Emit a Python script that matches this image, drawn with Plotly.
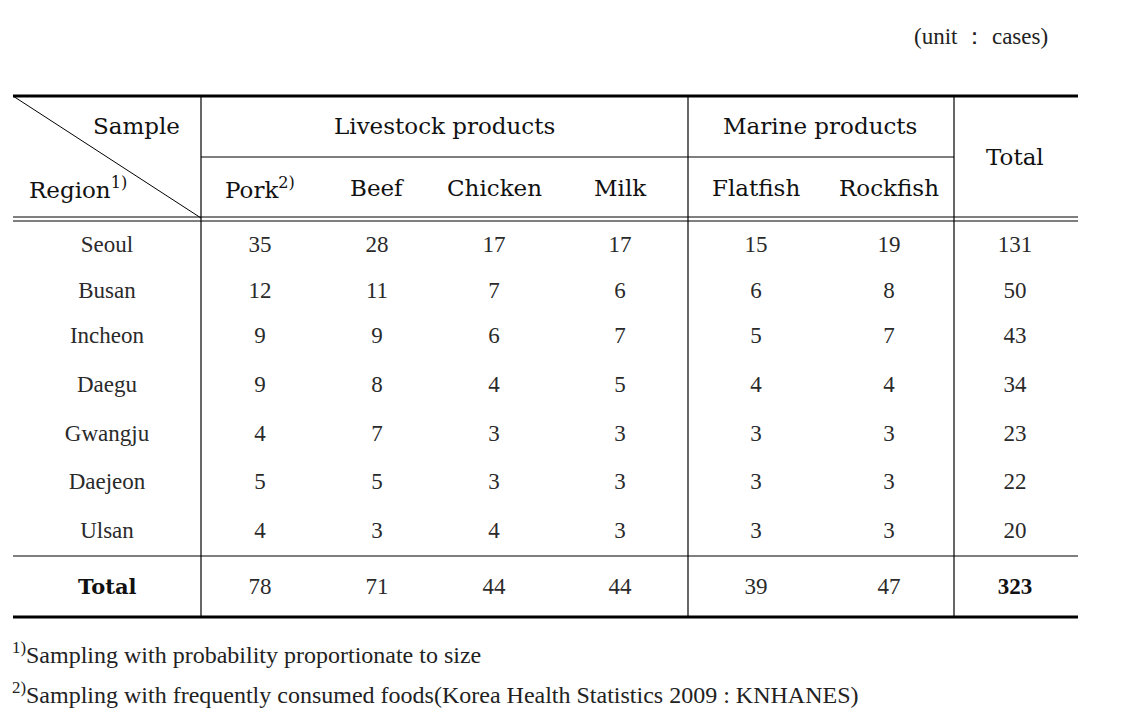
import plotly.graph_objects as go

# ---- data ----
regions = ["Seoul", "Busan", "Incheon", "Daegu", "Gwangju", "Daejeon", "Ulsan"]
pork = [35, 12, 9, 9, 4, 5, 4]
beef = [28, 11, 9, 8, 7, 5, 3]
chicken = [17, 7, 6, 4, 3, 3, 4]
milk = [17, 6, 7, 5, 3, 3, 3]
flatfish = [15, 6, 5, 4, 3, 3, 3]
rockfish = [19, 8, 7, 4, 3, 3, 3]
row_total = [131, 50, 43, 34, 23, 22, 20]
col_total = [78, 71, 44, 44, 39, 47]
grand_total = 323
sample_labels = ["Pork<sup>2)</sup>", "Beef", "Chicken", "Milk", "Flatfish", "Rockfish"]
group_labels = ["Livestock products", "Marine products"]
unit_text = "(unit \uff1a cases)"
footnotes = ["<sup>1)</sup>Sampling with probability proportionate to size",
             "<sup>2)</sup>Sampling with frequently consumed foods(Korea Health Statistics 2009 : KNHANES)"]

# ---- layout geometry (page pixels) ----
W, H = 1145, 722
OFF = 8  # page body margin
x_left, x_right = 13, 1078
v1, v2, v3 = 201, 688, 954
y_top, y_mid, y_dbl1, y_dbl2, y_tot, y_bot = 96, 157, 217, 221, 556, 617
col_x = [260, 377, 494, 620, 756, 889]
total_x = 1015
region_x = 107
row_y = [246, 292, 337, 386, 435, 483, 532]
total_row_y = 588

num_font = dict(family="Liberation Serif", size=23, color="#2a2a2a")
hdr_font = dict(family="DejaVu Serif", size=23, color="#111111")
note_font = dict(family="Liberation Serif", size=24, color="#222222")

fig = go.Figure()

series = [pork, beef, chicken, milk, flatfish, rockfish]
for cx, vals in zip(col_x, series):
    fig.add_trace(go.Scatter(x=[cx] * len(vals), y=row_y, mode="text",
                             text=[str(v) for v in vals], textfont=num_font,
                             hoverinfo="skip", showlegend=False))
fig.add_trace(go.Scatter(x=[total_x] * len(row_total), y=row_y, mode="text",
                         text=[str(v) for v in row_total], textfont=num_font,
                         hoverinfo="skip", showlegend=False))
fig.add_trace(go.Scatter(x=[region_x] * len(regions), y=row_y, mode="text",
                         text=regions, textfont=num_font,
                         hoverinfo="skip", showlegend=False))
fig.add_trace(go.Scatter(x=col_x, y=[total_row_y] * len(col_total), mode="text",
                         text=[str(v) for v in col_total], textfont=num_font,
                         hoverinfo="skip", showlegend=False))
fig.add_trace(go.Scatter(x=[total_x], y=[total_row_y], mode="text",
                         text=["<b>%d</b>" % grand_total],
                         textfont=dict(family="Liberation Serif", size=23, color="#111"),
                         hoverinfo="skip", showlegend=False))

anns = []
def ann(x, y, text, font, xanchor="center"):
    anns.append(dict(x=x, y=y, xref="x", yref="y", text=text, showarrow=False,
                     font=font, xanchor=xanchor, yanchor="middle"))

ann(182, 126, "Sample", hdr_font, "right")
ann(27, 188, "Region<sup>1)</sup>", hdr_font, "left")
ann(444, 126, group_labels[0], hdr_font)
ann(820, 126, group_labels[1], hdr_font)
ann(total_x, 157, "Total", hdr_font)
for cx, lab in zip(col_x, sample_labels):
    ann(cx, 188, lab, hdr_font)
ann(region_x, 586, "<b>Total</b>", dict(family="DejaVu Serif", size=21, color="#111"))
ann(1050, 36, unit_text, dict(family="Liberation Serif", size=23, color="#222"), "right")
ann(10, 653, footnotes[0], note_font, "left")
ann(10, 693, footnotes[1], note_font, "left")

shapes = []
def line(x0, y0, x1, y1, w=1.2):
    shapes.append(dict(type="line", xref="x", yref="y", x0=x0, y0=y0, x1=x1, y1=y1,
                       line=dict(color="black", width=w)))

line(x_left, y_top, x_right, y_top, 3)
line(x_left, y_bot, x_right, y_bot, 3)
line(v1, y_mid, v3, y_mid)
line(x_left, y_dbl1, x_right, y_dbl1)
line(x_left, y_dbl2, x_right, y_dbl2)
line(x_left, y_tot, x_right, y_tot)
for vx in (v1, v2, v3):
    line(vx, y_top, vx, y_bot)
line(x_left, y_top, v1, y_dbl1 + 1, 1)

fig.update_layout(
    width=W, height=H, margin=dict(l=0, r=0, t=0, b=0),
    paper_bgcolor="white", plot_bgcolor="white",
    xaxis=dict(range=[OFF, W + OFF], visible=False, fixedrange=True),
    yaxis=dict(range=[H + OFF, OFF], visible=False, fixedrange=True),
    shapes=shapes, annotations=anns,
)

fig.write_html("out.html")
